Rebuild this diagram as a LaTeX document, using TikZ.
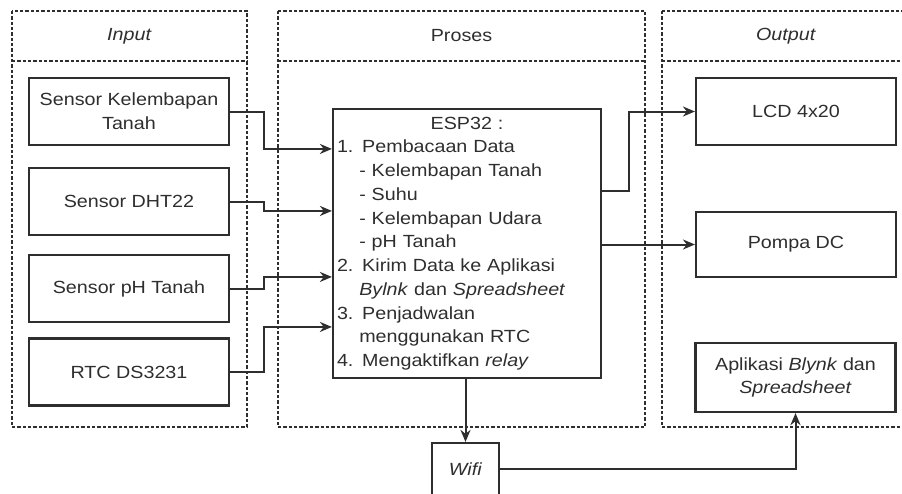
\documentclass[tikz,border=0pt]{standalone}
\usepackage{fontspec}
\setmainfont{Liberation Sans}[FakeStretch=1.12]
\usetikzlibrary{arrows.meta}
\definecolor{ink}{HTML}{2E2E2E}

\begin{document}
\begin{tikzpicture}[x=0.75pt,y=-0.75pt,color=ink,
	font=\fontsize{13.2}{17.8}\selectfont,
	box/.style={draw,line width=1.6pt,minimum width=150pt,minimum height=50.25pt,align=center,inner sep=1pt},
	panel/.style={line width=1.4pt,dash pattern=on 2.5pt off 1.5pt},
	conn/.style={line width=1.5pt,-{Stealth[length=9pt,width=7.5pt]}}]
	\useasboundingbox (0,0) rectangle (902,493);
	\clip (0,0) rectangle (902,493);
	% panels
	\draw[panel] (12,11) rectangle (247,427);
	\draw[panel] (12,61) -- (247,61);
	\draw[panel] (278,11) rectangle (645,427);
	\draw[panel] (278,61) -- (645,61);
	\draw[panel] (662,11) rectangle (914,427);
	\draw[panel] (662,61) -- (914,61);
	\node (hin) at (129.5,36) {\textit{Input}};
	\node (hpro) at (461.5,36) {Proses};
	\node (hout) at (786,36) {\textit{Output}};
	% input
	\node[box] (s1) at (129,111.5) {Sensor Kelembapan\\Tanah};
	\node[box] (s2) at (129,201.5) {Sensor DHT22};
	\node[box] (s3) at (129,288.5) {Sensor pH Tanah};
	\node[box] (s4) at (129,372) {RTC DS3231};
	% proses
	\node[draw,line width=1.6pt,text width=195pt,inner xsep=3pt,inner ysep=0pt,minimum height=201.75pt,align=left] (esp) at (467,243.5) {%
		\makebox[\linewidth]{ESP32 :}\\
		1. Pembacaan Data\\
		\phantom{1.~}- Kelembapan Tanah\\
		\phantom{1.~}- Suhu\\
		\phantom{1.~}- Kelembapan Udara\\
		\phantom{1.~}- pH Tanah\\
		2. Kirim Data ke Aplikasi\\
		\phantom{1.~}\textit{Bylnk} dan \textit{Spreadsheet}\\
		3. Penjadwalan\\
		\phantom{1.~}menggunakan RTC\\
		4. Mengaktifkan \textit{relay}};
	\node[box,minimum width=50.25pt,minimum height=39pt] (wifi) at (465.5,469) {\textit{Wifi}};
	% output
	\node[box] (lcd) at (796,111.5) {LCD 4x20};
	\node[box,minimum height=48.75pt] (pompa) at (796,244.5) {Pompa DC};
	\node[box,minimum height=51.75pt] (app) at (795.5,377.5) {Aplikasi \textit{Blynk} dan\\\textit{Spreadsheet}};
	% connections
	\draw[conn] (s1.east) -- ++(34,0) |- ([yshift=-30.75pt]esp.north west);
	\draw[conn] (s2.east) -- ++(34,0) |- ([yshift=-77.25pt]esp.north west);
	\draw[conn] (s3.east) -- ++(34,0) |- ([yshift=-126.75pt]esp.north west);
	\draw[conn] (s4.east) -- ++(34,0) |- ([yshift=-164.25pt]esp.north west);
	\draw[conn] ([yshift=-62.25pt]esp.north east) -- ++(27,0) |- (lcd.west);
	\draw[conn] (esp.east |- pompa.west) -- (pompa.west);
	\draw[conn] (esp.south -| wifi.north) -- (wifi.north);
	\draw[conn] (wifi.east) -| (app.south);
\end{tikzpicture}
\end{document}
